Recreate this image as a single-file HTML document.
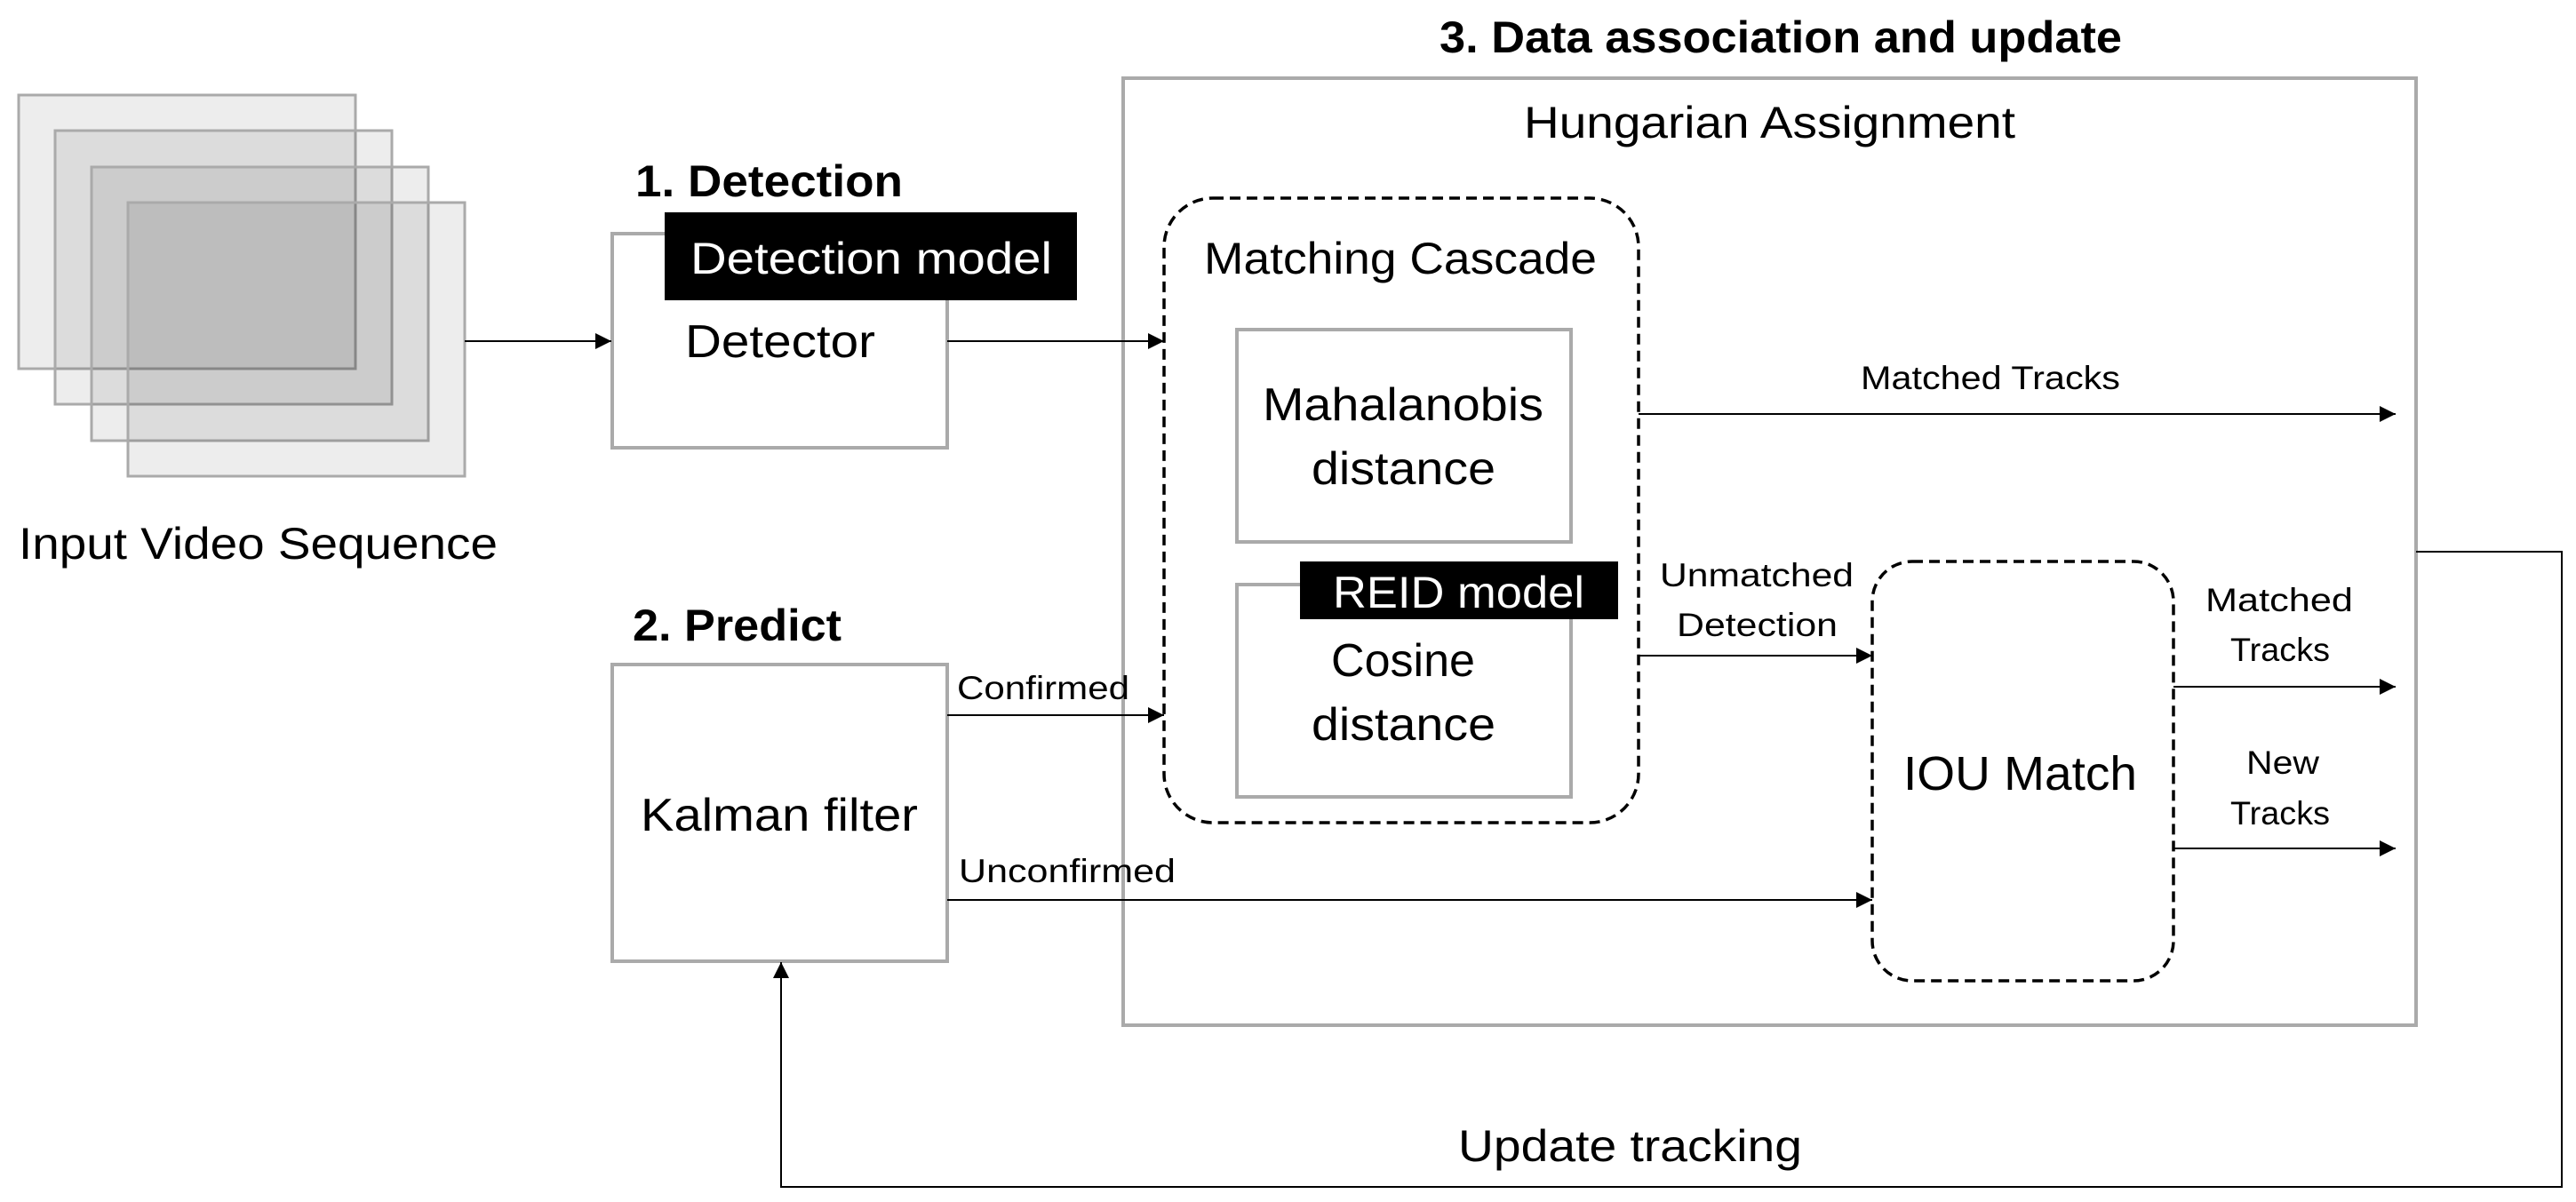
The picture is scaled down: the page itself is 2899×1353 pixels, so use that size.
<!DOCTYPE html>
<html><head><meta charset="utf-8"><style>html,body{margin:0;padding:0;background:#fff}svg{display:block}text{font-family:"Liberation Sans",sans-serif;fill:#000}</style></head>
<body>
<svg width="2899" height="1353" viewBox="0 0 2899 1353" xmlns="http://www.w3.org/2000/svg">
<defs>
<marker id="a" viewBox="0 0 10 10" refX="10" refY="5" markerWidth="18" markerHeight="18" markerUnits="userSpaceOnUse" orient="auto"><path d="M0,0 L10,5 L0,10 z" fill="#000"/></marker>
</defs>
<g stroke="#aaa" stroke-width="3" fill="rgba(0,0,0,0.07)">
<rect x="21" y="107" width="379" height="308"/>
<rect x="62" y="147" width="379" height="308"/>
<rect x="103" y="188" width="379" height="308"/>
<rect x="144" y="228" width="379" height="308"/>
</g>
<text x="21" y="629" font-size="50" textLength="539" lengthAdjust="spacingAndGlyphs">Input Video Sequence</text>
<text x="715" y="221" font-size="50" font-weight="bold" textLength="301" lengthAdjust="spacingAndGlyphs">1. Detection</text>
<rect x="689" y="263" width="377" height="241" fill="#fff" stroke="#aaa" stroke-width="4"/>
<rect x="748" y="239" width="464" height="99" fill="#000"/>
<text x="777" y="308" font-size="50" style="fill:#fff" textLength="407" lengthAdjust="spacingAndGlyphs">Detection model</text>
<text x="771" y="402" font-size="52" textLength="214" lengthAdjust="spacingAndGlyphs">Detector</text>
<text x="712" y="721" font-size="50" font-weight="bold" textLength="235" lengthAdjust="spacingAndGlyphs">2. Predict</text>
<rect x="689" y="748" width="377" height="334" fill="#fff" stroke="#aaa" stroke-width="4"/>
<text x="721" y="935" font-size="52" textLength="312" lengthAdjust="spacingAndGlyphs">Kalman filter</text>
<text x="1620" y="59" font-size="50" font-weight="bold" textLength="768" lengthAdjust="spacingAndGlyphs">3. Data association and update</text>
<rect x="1264" y="88" width="1455" height="1066" fill="none" stroke="#aaa" stroke-width="4"/>
<text x="1715" y="155" font-size="50" textLength="553" lengthAdjust="spacingAndGlyphs">Hungarian Assignment</text>
<rect x="1310" y="223" width="534" height="703" rx="55" ry="55" fill="none" stroke="#000" stroke-width="3.5" stroke-dasharray="12,7"/>
<text x="1355" y="308" font-size="50" textLength="442" lengthAdjust="spacingAndGlyphs">Matching Cascade</text>
<rect x="1392" y="371" width="376" height="239" fill="none" stroke="#aaa" stroke-width="4"/>
<text x="1421" y="473" font-size="52" textLength="316" lengthAdjust="spacingAndGlyphs">Mahalanobis</text>
<text x="1476" y="545" font-size="52" textLength="207" lengthAdjust="spacingAndGlyphs">distance</text>
<rect x="1392" y="658" width="376" height="239" fill="none" stroke="#aaa" stroke-width="4"/>
<rect x="1463" y="632" width="358" height="65" fill="#000"/>
<text x="1500" y="684" font-size="50" style="fill:#fff" textLength="283" lengthAdjust="spacingAndGlyphs">REID model</text>
<text x="1498" y="761" font-size="52" textLength="162" lengthAdjust="spacingAndGlyphs">Cosine</text>
<text x="1476" y="833" font-size="52" textLength="207" lengthAdjust="spacingAndGlyphs">distance</text>
<rect x="2107" y="632" width="339" height="472" rx="45" ry="45" fill="none" stroke="#000" stroke-width="3.5" stroke-dasharray="12,7"/>
<text x="2142" y="889" font-size="54" textLength="263" lengthAdjust="spacingAndGlyphs">IOU Match</text>
<g stroke="#000" stroke-width="2" fill="none">
<line x1="523" y1="384" x2="688" y2="384" marker-end="url(#a)"/>
<line x1="1066" y1="384" x2="1310" y2="384" marker-end="url(#a)"/>
<line x1="1066" y1="805" x2="1310" y2="805" marker-end="url(#a)"/>
<line x1="1066" y1="1013" x2="2107" y2="1013" marker-end="url(#a)"/>
<line x1="1844" y1="466" x2="2696" y2="466" marker-end="url(#a)"/>
<line x1="1844" y1="738" x2="2107" y2="738" marker-end="url(#a)"/>
<line x1="2446" y1="773" x2="2696" y2="773" marker-end="url(#a)"/>
<line x1="2446" y1="955" x2="2696" y2="955" marker-end="url(#a)"/>
<polyline points="2719,621 2883,621 2883,1336 879,1336 879,1083" marker-end="url(#a)"/>
</g>
<text x="1077" y="787" font-size="37" textLength="194" lengthAdjust="spacingAndGlyphs">Confirmed</text>
<text x="1079" y="993" font-size="37" textLength="244" lengthAdjust="spacingAndGlyphs">Unconfirmed</text>
<text x="2094" y="438" font-size="37" textLength="292" lengthAdjust="spacingAndGlyphs">Matched Tracks</text>
<text x="1868" y="660" font-size="37" textLength="218" lengthAdjust="spacingAndGlyphs">Unmatched</text>
<text x="1887" y="716" font-size="37" textLength="181" lengthAdjust="spacingAndGlyphs">Detection</text>
<text x="2482" y="688" font-size="37" textLength="166" lengthAdjust="spacingAndGlyphs">Matched</text>
<text x="2510" y="744" font-size="37" textLength="112" lengthAdjust="spacingAndGlyphs">Tracks</text>
<text x="2528" y="871" font-size="37" textLength="82" lengthAdjust="spacingAndGlyphs">New</text>
<text x="2510" y="928" font-size="37" textLength="112" lengthAdjust="spacingAndGlyphs">Tracks</text>
<text x="1641" y="1307" font-size="50" textLength="387" lengthAdjust="spacingAndGlyphs">Update tracking</text>
</svg>
</body></html>
